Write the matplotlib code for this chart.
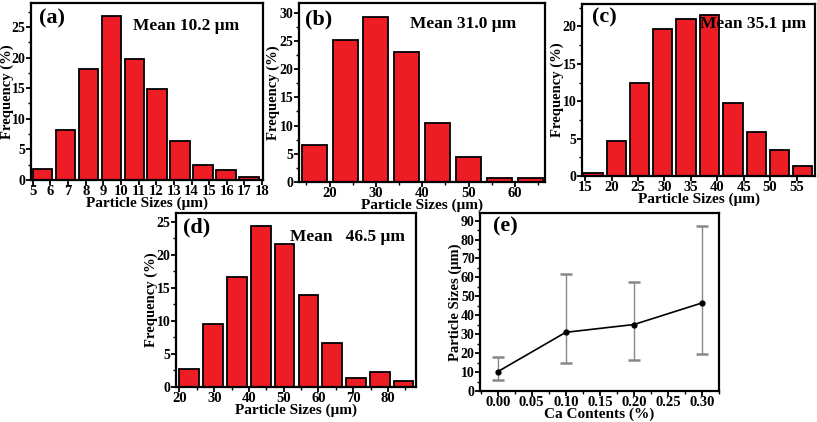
"""
Particle size distributions for different Ca contents, plus mean size vs Ca content
"""
import matplotlib
matplotlib.use('Agg')
import matplotlib.pyplot as plt
from matplotlib.ticker import AutoMinorLocator, MultipleLocator, FormatStrFormatter

# ---- data ----
a_sizes = [5.55, 6.85, 8.15, 9.45, 10.75, 12.05, 13.35, 14.65, 15.95, 17.25]
a_freq = [1.8, 8.2, 18.2, 26.8, 19.8, 14.9, 6.3, 2.4, 1.6, 0.45]

b_sizes = [16.7, 23.4, 30.0, 36.7, 43.3, 50.0, 56.7, 63.3]
b_freq = [6.5, 25.1, 29.3, 23.1, 10.5, 4.4, 0.7, 0.7]

c_sizes = [16.5, 20.9, 25.3, 29.7, 34.1, 38.5, 43.0, 47.4, 51.8, 56.2]
c_freq = [0.35, 4.65, 12.5, 19.6, 21.0, 21.5, 9.8, 5.9, 3.45, 1.35]

d_sizes = [22.8, 29.6, 36.5, 43.4, 50.2, 57.1, 63.9, 70.8, 77.7, 84.5]
d_freq = [2.7, 9.45, 16.7, 24.3, 21.6, 13.9, 6.7, 1.35, 2.3, 0.9]

ca_content = [0.00, 0.10, 0.20, 0.30]
mean_size = [10.2, 31.0, 35.1, 46.5]
size_low = [5.7, 14.9, 16.3, 19.8]
size_high = [17.7, 61.9, 57.8, 87.3]

W, H = 817, 422
RED = '#EE1C25'

plt.rcParams['font.family'] = ['Liberation Serif', 'DejaVu Serif']
plt.rcParams['font.weight'] = 'bold'
plt.rcParams['axes.labelweight'] = 'bold'
plt.rcParams['axes.linewidth'] = 1.6


def make_axes(fig, left, top, right, bottom):
    """Axes from pixel box (left, top, right, bottom)"""
    ax = fig.add_axes([left / W, 1 - bottom / H, (right - left) / W, (bottom - top) / H])
    ax._px_width = right - left
    return ax


def style_axes(ax, xmajor, ymajor, xminor=True):
    ax.xaxis.set_major_locator(MultipleLocator(xmajor))
    ax.yaxis.set_major_locator(MultipleLocator(ymajor))
    if xminor:
        ax.xaxis.set_minor_locator(AutoMinorLocator(2))
    ax.yaxis.set_minor_locator(AutoMinorLocator(2))
    ax.tick_params(which='major', direction='out', length=3.5, width=1.3,
                   labelsize=10.5, pad=0.3)
    ax.tick_params(which='minor', direction='out', length=2, width=1.0)
    ax.tick_params(axis='x', pad=0)
    ax.tick_params(axis='y', labelsize=10)
    for lab in ax.get_xticklabels() + ax.get_yticklabels():
        lab.set_fontweight('bold')


def place_ylabel(ax, offset_px):
    """Put the y label's centre offset_px pixels left of the axis"""
    ax.yaxis.label.set_va('center')
    ax.yaxis.set_label_coords(-offset_px / ax._px_width, 0.5)


def histogram_panel(ax, sizes, freq, width, xlim, ylim, xmajor, tag, mean_text,
                    tag_pos, mean_pos, ylab_off, xminor=True):
    ax.bar(sizes, freq, width=width, color=RED, edgecolor='black', linewidth=1.3)
    ax.set_xlim(*xlim)
    ax.set_ylim(*ylim)
    style_axes(ax, xmajor, 5, xminor)
    ax.set_xlabel('Particle Sizes (μm)', fontsize=11, labelpad=-1)
    ax.set_ylabel('Frequency (%)', fontsize=10.5)
    place_ylabel(ax, ylab_off)
    ax.text(*tag_pos, tag, transform=ax.transAxes, fontsize=16,
            fontweight='bold', va='center', ha='left')
    ax.text(*mean_pos, mean_text, transform=ax.transAxes, fontsize=12.5,
            fontweight='bold', va='center', ha='left', zorder=5)


def main():
    fig = plt.figure(figsize=(W / 100, H / 100), dpi=100)

    ax_a = make_axes(fig, 31, 3, 263, 180)
    histogram_panel(ax_a, a_sizes, a_freq, 1.1, (4.9, 18.05), (0, 28.9), 1,
                    '(a)', 'Mean 10.2 μm', (0.034, 0.915), (0.44, 0.87), 23.5,
                    xminor=False)

    ax_b = make_axes(fig, 299, 3, 545, 182)
    histogram_panel(ax_b, b_sizes, b_freq, 5.4, (13.4, 66.5), (0, 31.7), 10,
                    '(b)', 'Mean 31.0 μm', (0.024, 0.91), (0.45, 0.883), 26)

    ax_c = make_axes(fig, 582, 4, 815, 176)
    histogram_panel(ax_c, c_sizes, c_freq, 3.65, (14.4, 58.5), (0, 23.0), 5,
                    '(c)', 'Mean 35.1 μm', (0.043, 0.924), (0.506, 0.884), 25,
                    xminor=False)

    ax_d = make_axes(fig, 176, 213, 416, 387)
    histogram_panel(ax_d, d_sizes, d_freq, 5.65, (19.0, 88.1), (0, 26.3), 10,
                    '(d)', 'Mean   46.5 μm', (0.029, 0.914), (0.475, 0.862), 25)

    # mean size vs Ca content
    ax_e = make_axes(fig, 480, 213, 719, 391)
    lower = [m - lo for m, lo in zip(mean_size, size_low)]
    upper = [hi - m for m, hi in zip(mean_size, size_high)]
    line, caps, bars = ax_e.errorbar(ca_content, mean_size, yerr=[lower, upper],
                                     fmt='o-', color='black', ms=3.5, lw=1.2,
                                     ecolor='#888888', elinewidth=1.0,
                                     capsize=4.5, capthick=1.8)
    for c in caps:
        c.set_color('black')
    ax_e.set_xlim(-0.026, 0.325)
    ax_e.set_ylim(0, 94)
    style_axes(ax_e, 0.05, 10)
    ax_e.xaxis.set_major_formatter(FormatStrFormatter('%.2f'))
    ax_e.set_xlabel('Ca Contents (%)', fontsize=11, labelpad=-1)
    ax_e.set_ylabel('Particle Sizes (μm)', fontsize=10.5)
    place_ylabel(ax_e, 25)
    ax_e.text(0.054, 0.927, '(e)', transform=ax_e.transAxes, fontsize=16,
              fontweight='bold', va='center', ha='left')

    fig.savefig('out.png', dpi=100)


if __name__ == "__main__":
    main()
